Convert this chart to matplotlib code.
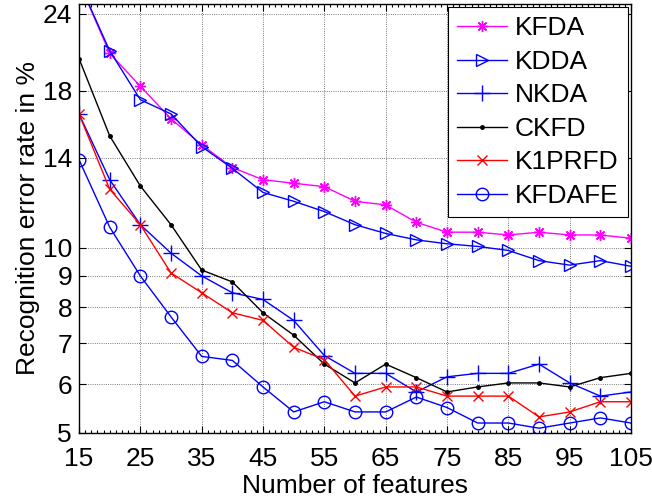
import numpy as np
import matplotlib.pyplot as plt
from matplotlib.ticker import FixedLocator, NullFormatter, MultipleLocator, NullLocator

plt.rcParams['font.family'] = ['Liberation Sans', 'DejaVu Sans']

# number of features
features = [15, 20, 25, 30, 35, 40, 45, 50, 55, 60, 65, 70, 75, 80, 85, 90, 95, 100, 105]

# recognition error rates in %
kfda = [27.0, 20.7, 18.3, 16.2, 14.7, 13.5, 12.9, 12.73, 12.57, 11.9, 11.74, 11.0, 10.6,
        10.6, 10.49, 10.6, 10.49, 10.49, 10.36]
kdda = [27.0, 20.9, 17.4, 16.5, 14.6, 13.46, 12.3, 11.9, 11.45, 10.9, 10.55, 10.3, 10.15,
        10.05, 9.9, 9.53, 9.37, 9.53, 9.33]
nkda = [16.5, 12.9, 10.9, 9.8, 9.0, 8.45, 8.24, 7.62, 6.68, 6.25, 6.25, 5.83, 6.17,
        6.25, 6.25, 6.47, 6.03, 5.74, 5.83]
ckfd = [20.3, 15.2, 12.6, 10.9, 9.2, 8.8, 7.84, 7.21, 6.47, 6.03, 6.47, 6.15, 5.83,
        5.94, 6.03, 6.03, 5.94, 6.15, 6.25]
k1prfd = [16.5, 12.45, 10.9, 9.1, 8.45, 7.84, 7.62, 6.89, 6.58, 5.74, 5.94, 5.94, 5.74,
          5.74, 5.74, 5.31, 5.41, 5.62, 5.62]
kfdafe = [13.9, 10.8, 9.0, 7.72, 6.66, 6.56, 5.94, 5.41, 5.62, 5.41, 5.41, 5.72, 5.5,
          5.19, 5.19, 5.09, 5.19, 5.29, 5.19]

x_ticks = [15, 25, 35, 45, 55, 65, 75, 85, 95, 105]
y_ticks = [5, 6, 7, 8, 9, 10, 14, 18, 24]

fs = 19

fig = plt.figure(figsize=(6.52, 4.97), dpi=100)
ax = fig.add_axes([0.1212, 0.1288, 0.8466, 0.8632])

lw = 1.0
ax.plot(features, kfda, color='#ff00ff', marker=(8, 2, 0), markersize=8, markeredgewidth=1.0, lw=lw, label='KFDA')
ax.plot(features, kdda, color='#0000ff', marker='>', markersize=9, markerfacecolor='none', lw=lw, label='KDDA')
ax.plot(features, nkda, color='#0000ff', marker='+', markersize=11, markeredgewidth=1.0, lw=lw, label='NKDA')
ax.plot(features, ckfd, color='black', marker='.', markersize=5, lw=lw, label='CKFD')
ax.plot(features, k1prfd, color='#ff0000', marker='x', markersize=7, markeredgewidth=1.0, lw=lw, label='K1PRFD')
ax.plot(features, kfdafe, color='#0000ff', marker='o', markersize=9, markerfacecolor='none', lw=lw, label='KFDAFE')

ax.set_yscale('log')
ax.set_xlim(15, 105)
ax.set_ylim(5, 24.9)
ax.yaxis.set_major_locator(FixedLocator(y_ticks))
ax.yaxis.set_major_formatter(plt.FixedFormatter([str(v) for v in y_ticks]))
ax.yaxis.set_minor_locator(NullLocator())
ax.yaxis.set_minor_formatter(NullFormatter())
ax.set_xticks(x_ticks)
ax.xaxis.set_minor_locator(MultipleLocator(1))

ax.tick_params(which='both', direction='in', top=True, right=True, labelsize=fs, width=0.8)
ax.tick_params(which='major', length=5)
ax.tick_params(axis='x', which='major', pad=10)
ax.tick_params(axis='y', which='major', pad=5)
ax.tick_params(which='minor', length=2.5)
ax.grid(True, which='major', linestyle=':', color='black', linewidth=0.6, alpha=0.7)
for s in ax.spines.values():
    s.set_linewidth(1.0)

ax.set_xlabel('Number of features', fontsize=fs, labelpad=2)
ax.set_ylabel('Recognition error rate in %', fontsize=fs, labelpad=2)

leg = ax.legend(loc='upper right', fontsize=fs, fancybox=False, framealpha=1,
                edgecolor='black', borderaxespad=0.12, handlelength=1.9,
                labelspacing=0.36, borderpad=0.35, handletextpad=0.3)
leg.get_frame().set_linewidth(0.8)

fig.savefig('out.png', dpi=100)
